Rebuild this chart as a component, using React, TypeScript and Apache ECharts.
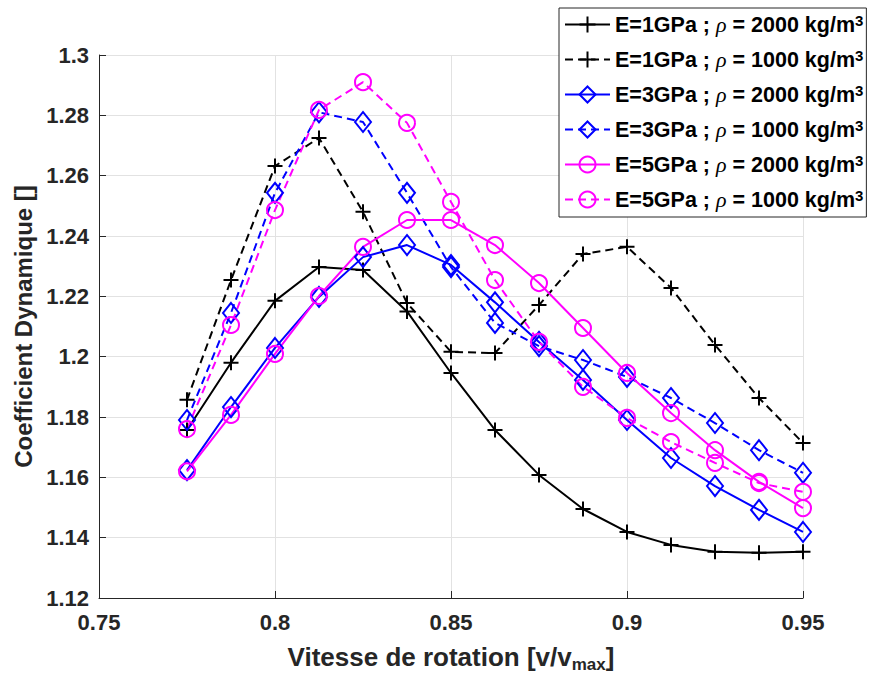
import React, { useEffect, useRef } from "react";
import * as echarts from "echarts";

const xValues = [0.775, 0.7875, 0.8, 0.8125, 0.825, 0.8375, 0.85, 0.8625, 0.875, 0.8875, 0.9, 0.9125, 0.925, 0.9375, 0.95];

const e1r2000 = [1.1757, 1.198, 1.2185, 1.2297, 1.2287, 1.2150, 1.1946, 1.1757, 1.1608, 1.1495, 1.1419, 1.1376, 1.1353, 1.1350, 1.1353];
const e1r1000 = [1.1857, 1.2254, 1.2632, 1.2725, 1.2480, 1.2178, 1.2016, 1.2012, 1.2171, 1.2340, 1.2364, 1.2228, 1.2039, 1.1863, 1.1714];
const e3r2000 = [1.1624, 1.1833, 1.2029, 1.2198, 1.2330, 1.2370, 1.2304, 1.2180, 1.2049, 1.1923, 1.1790, 1.1664, 1.1571, 1.1492, 1.1419];
const e3r1000 = [1.1790, 1.2145, 1.2543, 1.2810, 1.2778, 1.2543, 1.2297, 1.2112, 1.2035, 1.1989, 1.1933, 1.1863, 1.1780, 1.1690, 1.1615];
const e5r2000 = [1.1620, 1.1807, 1.2009, 1.2201, 1.2364, 1.2453, 1.2453, 1.2370, 1.2244, 1.2095, 1.1946, 1.1813, 1.1690, 1.1585, 1.1498];
const e5r1000 = [1.1760, 1.2105, 1.2486, 1.2818, 1.2910, 1.2775, 1.2513, 1.2254, 1.2049, 1.1900, 1.1797, 1.1717, 1.1648, 1.1581, 1.1552];

const moduli = ["1", "1", "3", "3", "5", "5"];
const densities = ["2000", "1000", "2000", "1000", "2000", "1000"];
const seriesValues = [e1r2000, e1r1000, e3r2000, e3r1000, e5r2000, e5r1000];
const colors = ["#000000", "#000000", "#0000ff", "#0000ff", "#ff00ff", "#ff00ff"];
const dashed = [false, true, false, true, false, true];
const symbols = ["path://M7,0L7,14M0,7L14,7", "path://M7,0L7,14M0,7L14,7", "diamond", "diamond", "circle", "circle"];
const symbolSizes: any[] = [15, 15, [16, 20], [16, 20], 16, 16];

const yTicks = { min: 1.12, max: 1.3, interval: 0.02 };
const xTicks = { min: 0.75, max: 0.95, interval: 0.05 };

const FONT = "'Liberation Sans', Arial, Helvetica, sans-serif";

export default function App() {
  const ref = useRef<HTMLDivElement>(null);
  useEffect(() => {
    if (!ref.current) return;
    const chart = echarts.init(ref.current, undefined, { renderer: "svg" });
    const names = moduli.map((e, i) => `E=${e}GPa ; ρ = ${densities[i]} kg/m3`);
    const series = names.map((name, i) => ({
      name,
      type: "line",
      data: xValues.map((x, j) => [x, seriesValues[i][j]]),
      symbol: symbols[i],
      symbolSize: symbolSizes[i],
      showSymbol: true,
      lineStyle: { color: colors[i], width: 2, type: dashed[i] ? [8, 5] : "solid" },
      itemStyle: { color: "rgba(0,0,0,0)", borderColor: colors[i], borderWidth: 2 },
      emphasis: { disabled: true },
      z: 2,
    }));
    const rich = {
      b: { fontFamily: FONT, fontWeight: "bold", fontSize: 21.5, color: "#000", lineHeight: 22 },
      r: { fontFamily: "'Liberation Serif', 'Times New Roman', serif", fontStyle: "italic", fontWeight: "normal", fontSize: 22, color: "#000", lineHeight: 22 },
      s: { fontFamily: FONT, fontWeight: "bold", fontSize: 15, color: "#000", lineHeight: 14, padding: [0, 0, 8, 0] },
    };
    chart.setOption({
      animation: false,
      backgroundColor: "#ffffff",
      grid: { left: 99, top: 55, right: 67, bottom: 84, containLabel: false },
      legend: {
        orient: "vertical",
        left: 559,
        top: 8,
        padding: [5, 3, 6, 5],
        itemGap: 12,
        itemWidth: 45,
        itemHeight: 20,
        borderColor: "#262626",
        borderWidth: 1,
        backgroundColor: "#ffffff",
        data: names,
        textStyle: { fontFamily: FONT, fontWeight: "bold", fontSize: 21.5, color: "#000", rich },
        formatter: (name: string) => {
          const m = name.match(/^(E=\S+ ; )ρ( = \d+ kg\/m)3$/);
          if (!m) return name;
          return `{b|${m[1]}}{r|ρ}{b|${m[2]}}{s|3}`;
        },
      },
      xAxis: {
        type: "value",
        min: xTicks.min,
        max: xTicks.max,
        interval: xTicks.interval,
        name: "Vitesse de rotation [v/v{sub|max}]",
        nameLocation: "middle",
        nameGap: 43,
        nameTextStyle: {
          fontFamily: FONT, fontWeight: "bold", fontSize: 26, color: "#262626",
          rich: {
            sub: { fontFamily: FONT, fontWeight: "bold", fontSize: 17, color: "#262626", padding: [15, 0, 0, 0] },
          },
        },
        axisLine: { show: true, onZero: false, lineStyle: { color: "#262626", width: 1 } },
        axisTick: { show: true, inside: true, length: 7, lineStyle: { color: "#262626" } },
        axisLabel: { fontFamily: FONT, fontWeight: "bold", fontSize: 22, color: "#262626", margin: 13 },
        splitLine: { show: true, lineStyle: { color: "#e2e2e2", width: 1 } },
      },
      yAxis: {
        type: "value",
        min: yTicks.min,
        max: yTicks.max,
        interval: yTicks.interval,
        name: "Coefficient Dynamique []",
        nameLocation: "middle",
        nameGap: 64,
        nameTextStyle: { fontFamily: FONT, fontWeight: "bold", fontSize: 24, color: "#262626" },
        axisLine: { show: true, onZero: false, lineStyle: { color: "#262626", width: 1 } },
        axisTick: { show: true, inside: true, length: 7, lineStyle: { color: "#262626" } },
        axisLabel: { fontFamily: FONT, fontWeight: "bold", fontSize: 22, color: "#262626", margin: 10 },
        splitLine: { show: true, lineStyle: { color: "#e2e2e2", width: 1 } },
      },
      series,
    });
    return () => chart.dispose();
  }, []);
  return <div ref={ref} style={{ width: 870, height: 682, position: "absolute", left: 0, top: 0 }} />;
}
